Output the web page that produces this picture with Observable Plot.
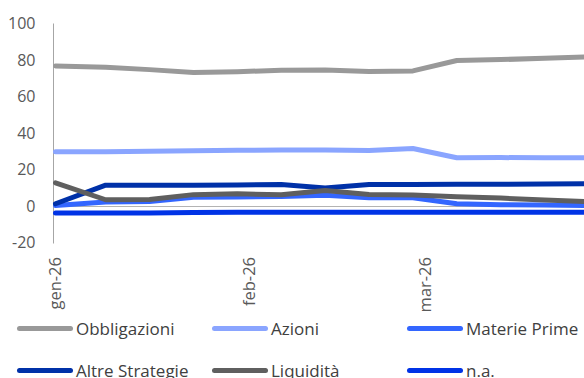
<!DOCTYPE html>
<html>
<head>
<meta charset="utf-8">
<script src="https://cdn.jsdelivr.net/npm/d3@7"></script>
<script src="https://cdn.jsdelivr.net/npm/@observablehq/plot@0.6"></script>
<style>
  html, body { margin: 0; padding: 0; background: #fff; overflow: hidden; width: 584px; height: 378px; }
  #wrap { position: relative; width: 584px; height: 378px; font-family: "Open Sans", sans-serif; }
  #chart { position: absolute; left: 0; top: 0; }
  .leg { position: absolute; display: flex; align-items: center; font-size: 17px; color: #404040; white-space: nowrap; }
  .sw { width: 56px; height: 5px; border-radius: 3px; margin-right: 3px; }
</style>
</head>
<body>
<div id="wrap"><div id="chart"></div></div>
<script>
const dates = ["2026-01-01","2026-01-09","2026-01-16","2026-01-23","2026-01-30","2026-02-06","2026-02-13","2026-02-20","2026-02-27","2026-03-06","2026-03-13","2026-03-20","2026-03-27"];
const seriesNames = ["Obbligazioni","Azioni","Materie Prime","Altre Strategie","Liquidità","n.a."];
const obbligazioni   = [77.0, 76.3, 75.0, 73.4, 73.9, 74.6, 74.8, 74.0, 74.3, 80.0, 80.5, 81.2, 82.0];
const azioni         = [30.0, 30.0, 30.3, 30.6, 30.8, 31.0, 31.0, 30.7, 31.8, 26.7, 26.8, 26.7, 26.7];
const materiePrime   = [0.5, 2.5, 2.8, 5.0, 5.2, 5.5, 6.2, 4.8, 4.8, 1.5, 1.0, 0.8, 0.5];
const altreStrategie = [1.5, 11.7, 11.7, 11.7, 11.8, 12.0, 10.2, 12.0, 12.0, 12.2, 12.2, 12.3, 12.5];
const liquidita      = [13.0, 3.7, 3.8, 6.5, 7.0, 6.4, 8.8, 6.6, 6.3, 5.4, 4.6, 3.6, 2.6];
const na             = [-3.5, -3.5, -3.5, -3.3, -3.2, -3.2, -3.2, -3.2, -3.2, -3.1, -3.1, -3.1, -3.1];
const colors = ["#999999", "#8aa5ff", "#3366ff", "#0031a8", "#5f5f5f", "#0033e6"];
const yTicks = [-20, 0, 20, 40, 60, 80, 100];
const xTickDates = ["2026-01-01", "2026-02-01", "2026-03-01"];
const xTickLabels = ["gen-26", "feb-26", "mar-26"];

const seriesValues = [obbligazioni, azioni, materiePrime, altreStrategie, liquidita, na];
const data = [];
seriesNames.forEach((s, k) => {
  dates.forEach((d, i) => data.push({series: s, date: new Date(d), value: seriesValues[k][i]}));
});
const tickDates = xTickDates.map(d => new Date(d));

const chart = Plot.plot({
  width: 584,
  height: 312,
  marginTop: 23.5,
  marginBottom: 69.5,
  marginLeft: 53,
  marginRight: 0,
  style: {fontFamily: "Open Sans, sans-serif", fontSize: "16px", color: "#595959", background: "transparent"},
  x: {type: "utc", domain: [new Date(dates[0]), new Date(dates[dates.length - 1])], range: [55, 588]},
  y: {domain: [-20, 100]},
  color: {domain: seriesNames, range: colors},
  marks: [
    Plot.ruleY([0], {stroke: "#b3b3b3", strokeWidth: 1}),
    Plot.frame({anchor: "left", stroke: "#a6a6a6"}),
    Plot.axisY({ticks: yTicks, tickSize: 0, tickPadding: 18, tickFormat: d => String(d), fill: "#595959", fontSize: 16, label: null}),
    Plot.axisX({ticks: tickDates, tickSize: 0, tickPadding: 14, tickRotate: -90, fontSize: 16.5, fill: "#595959", label: null,
      tickFormat: d => xTickLabels[tickDates.findIndex(t => +t === +d)]}),
    Plot.line(data, {x: "date", y: "value", z: "series", stroke: "series", strokeWidth: 5,
      strokeLinecap: "round", strokeLinejoin: "round"})
  ]
});
document.getElementById("chart").appendChild(chart);

// Legend (3 columns x 2 rows)
const wrap = document.getElementById("wrap");
const colX = [17, 212, 407];
const rowY = [328, 370];
seriesNames.forEach((s, k) => {
  const el = document.createElement("div");
  el.className = "leg";
  el.style.left = colX[k % 3] + "px";
  el.style.top = (rowY[Math.floor(k / 3)] - 12) + "px";
  el.style.height = "24px";
  const sw = document.createElement("div");
  sw.className = "sw";
  sw.style.background = colors[k];
  const tx = document.createElement("span");
  tx.textContent = s;
  el.appendChild(sw);
  el.appendChild(tx);
  wrap.appendChild(el);
});
</script>
</body>
</html>
